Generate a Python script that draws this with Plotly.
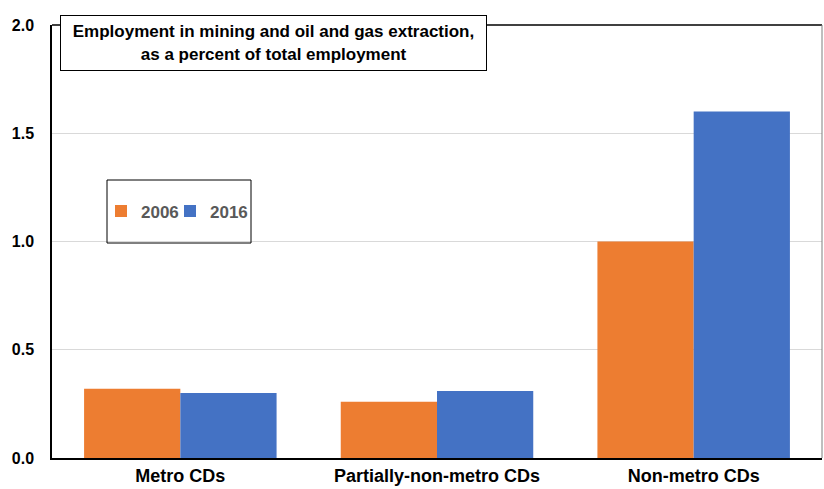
import plotly.graph_objects as go

categories = ["Metro CDs", "Partially-non-metro CDs", "Non-metro CDs"]
years = ["2006", "2016"]
values_2006 = [0.32, 0.26, 1.00]
values_2016 = [0.30, 0.31, 1.60]
y_ticks = [0.0, 0.5, 1.0, 1.5, 2.0]
y_tick_labels = ["0.0", "0.5", "1.0", "1.5", "2.0"]
box_text = "Employment in mining and oil and gas extraction,<br>as a percent of total employment"

colors = {"2006": "#ED7D31", "2016": "#4472C4"}
series = {"2006": values_2006, "2016": values_2016}
legend_ids = {"2006": "legend", "2016": "legend2"}

font_family = "Liberation Sans, Arial, sans-serif"

fig = go.Figure()
for yr in years:
    fig.add_trace(go.Bar(
        x=categories, y=series[yr], name=yr, legend=legend_ids[yr],
        marker=dict(color=colors[yr], line=dict(width=0)),
    ))

legend_common = dict(
    yanchor="middle", xanchor="left", y=(458 - 211.5) / 433,
    orientation="h", bgcolor="rgba(0,0,0,0)", borderwidth=0,
    font=dict(family=font_family, size=17, color="#595959", weight="bold"),
    itemwidth=30, itemclick=False,
)

fig.update_layout(
    width=824, height=489,
    margin=dict(l=52, r=2, t=25, b=31),
    paper_bgcolor="white", plot_bgcolor="white",
    barmode="group", bargap=0.25, bargroupgap=0,
    font=dict(family=font_family, size=16, color="black"),
    showlegend=True,
    legend=dict(x=(101 - 52) / 770, **legend_common),
    legend2=dict(x=(170 - 52) / 770, **legend_common),
    xaxis=dict(
        showline=True, linecolor="black", linewidth=1.5, mirror=False,
        showgrid=False, ticks="", tickfont=dict(size=18, weight="bold"),
        ticklabelstandoff=1, automargin=False,
    ),
    yaxis=dict(
        range=[0, 2.0], tickvals=y_ticks, ticktext=y_tick_labels,
        showline=True, linecolor="black", linewidth=1.5,
        showgrid=True, gridcolor="#d9d9d9", gridwidth=1,
        zeroline=False, ticks="", tickfont=dict(size=16, weight="bold"),
        ticklabelstandoff=13, automargin=False,
    ),
    shapes=[
        dict(type="line", xref="paper", yref="paper", x0=0, x1=1, y0=1, y1=1,
             line=dict(color="black", width=1.5)),
        dict(type="line", xref="paper", yref="paper", x0=1, x1=1, y0=0, y1=1,
             line=dict(color="#7f7f7f", width=1)),
        dict(type="rect", xref="paper", yref="paper",
             x0=(107 - 52) / 770, x1=(251 - 52) / 770,
             y0=(458 - 243) / 433, y1=(458 - 180) / 433,
             line=dict(color="black", width=1), fillcolor="rgba(0,0,0,0)"),
    ],
    annotations=[
        dict(
            text=box_text, xref="paper", yref="paper",
            x=(60 - 52) / 770, y=(458 - 15) / 433,
            xanchor="left", yanchor="top", showarrow=False,
            align="center", width=411, height=40, borderpad=7,
            bgcolor="white", bordercolor="black", borderwidth=1,
            font=dict(family=font_family, size=17, color="black", weight="bold"),
        )
    ],
)

fig.write_html("out.html")
